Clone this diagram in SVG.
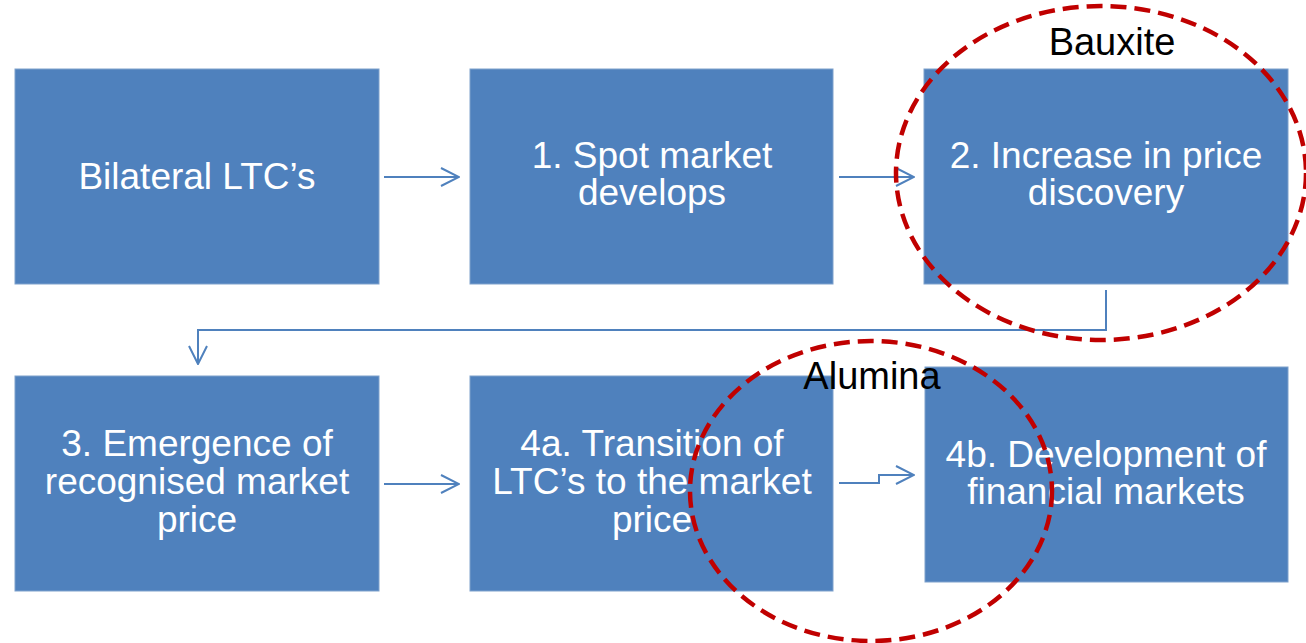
<svg xmlns="http://www.w3.org/2000/svg" width="1306" height="643" viewBox="0 0 1306 643">
<defs>
<style>
.box{fill:#4F81BD;stroke:#7EA1CC;stroke-width:1}
.t{fill:#FFFFFF;font-family:"Liberation Sans",Arial,sans-serif;font-size:37px;text-anchor:middle}
.lbl{fill:#000000;font-family:"Liberation Sans",Arial,sans-serif;font-size:38px;text-anchor:middle}
.c{fill:none;stroke:#4F81BD;stroke-width:2}
.ring{fill:none;stroke:#C00000;stroke-width:4.5;stroke-dasharray:16 8}
</style>
<marker id="arr" viewBox="0 0 20 20" refX="19" refY="10" markerWidth="20" markerHeight="20" markerUnits="userSpaceOnUse" orient="auto">
<path d="M1,1 L19,10 L1,19" fill="none" stroke="#4F81BD" stroke-width="2"/>
</marker>
</defs>
<rect width="1306" height="643" fill="#FFFFFF"/>
<g id="n0"><rect class="box" x="15" y="69" width="364" height="215"/><text class="t" x="197" y="189">Bilateral LTC’s</text></g>
<g id="n1"><rect class="box" x="470" y="69" width="363" height="215"/><text class="t" x="652" y="168">1. Spot market</text><text class="t" x="652" y="205">develops</text></g>
<g id="n2"><rect class="box" x="924" y="69" width="364" height="215"/><text class="t" x="1106" y="168">2. Increase in price</text><text class="t" x="1106" y="205">discovery</text></g>
<g id="n3"><rect class="box" x="15" y="376" width="364" height="215"/><text class="t" x="197" y="456">3. Emergence of</text><text class="t" x="197" y="494">recognised market</text><text class="t" x="197" y="532">price</text></g>
<g id="n4"><rect class="box" x="470" y="376" width="363" height="215"/><text class="t" x="652" y="456">4a. Transition of</text><text class="t" x="652" y="494">LTC’s to the market</text><text class="t" x="652" y="532">price</text></g>
<g id="n5"><rect class="box" x="925" y="367" width="363" height="215"/><text class="t" x="1106" y="467">4b. Development of</text><text class="t" x="1106" y="504">financial markets</text></g>
<g id="connectors">
<path class="c" d="M384,177 H459" marker-end="url(#arr)"/>
<path class="c" d="M839,177 H914" marker-end="url(#arr)"/>
<path class="c" d="M1106,290 V330 H198 V364" marker-end="url(#arr)"/>
<path class="c" d="M384,484 H459" marker-end="url(#arr)"/>
<path class="c" d="M839,483 H879 V475 H914" marker-end="url(#arr)"/>
</g>
<g id="bauxite">
<ellipse class="ring" cx="1101" cy="173" rx="205" ry="167"/>
<text class="lbl" x="1112" y="55">Bauxite</text>
</g>
<g id="alumina">
<ellipse class="ring" cx="871" cy="491" rx="181" ry="150"/>
<text class="lbl" x="872" y="389">Alumina</text>
</g>
</svg>
